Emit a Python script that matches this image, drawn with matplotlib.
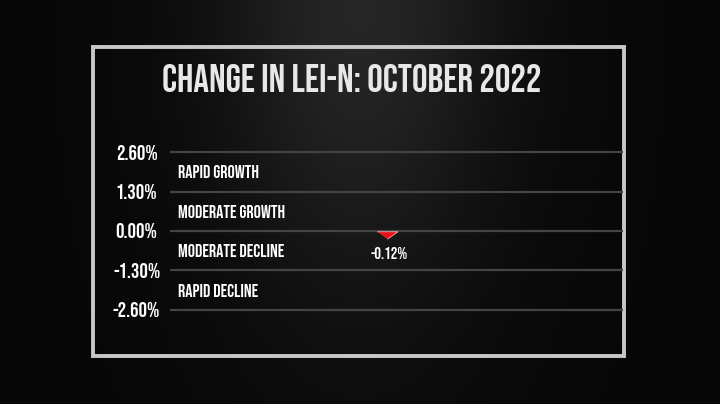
import numpy as np
import matplotlib.pyplot as plt
from matplotlib.patches import Rectangle

plt.rcParams['font.family'] = ['Bebas Neue', 'Fjalla One', 'Oswald', 'Antonio', 'Roboto Condensed',
                               'Barlow Condensed', 'Sofia Sans Extra Condensed', 'DejaVu Sans']

title = "CHANGE IN LEI-N: OCTOBER 2022"
tick_vals = [2.6, 1.3, 0.0, -1.3, -2.6]
tick_labels = ["2.60%", "1.30%", "0.00%", "-1.30%", "-2.60%"]
zone_names = ["RAPID GROWTH", "MODERATE GROWTH", "MODERATE DECLINE", "RAPID DECLINE"]
lei_change = -0.12
lei_label = "-0.12%"

fig = plt.figure(figsize=(7.2, 4.04), dpi=100)
fig.patch.set_facecolor('#080808')

# spotlight background
bg = fig.add_axes([0, 0, 1, 1], zorder=0)
xx, yy = np.meshgrid(np.linspace(0, 1, 360), np.linspace(0, 1, 202))
glow = np.exp(-((xx - 0.5) / 0.2) ** 2) * np.exp(-(yy / 0.75) ** 2)
shade = 0.03 + 0.12 * glow
bg.imshow(np.dstack([shade] * 3), extent=[0, 1, 1, 0], aspect='auto', interpolation='bilinear')
bg.set_xlim(0, 1)
bg.set_ylim(1, 0)
bg.axis('off')
bg.add_patch(Rectangle((93 / 720, 47 / 404), 531 / 720, 309 / 404, fill=False,
                       edgecolor='#c8c8c8', lw=2.8, zorder=3))

ax = fig.add_axes([170 / 720, 1 - 328.2 / 404, 453 / 720, 194.4 / 404], zorder=2)
ax.patch.set_alpha(0)
ax.set_xlim(0, 1)
ax.set_ylim(-3.2, 3.2)
for s in ax.spines.values():
    s.set_visible(False)
ax.set_xticks([])
ax.set_yticks(tick_vals)
ax.set_yticklabels(tick_labels)
ax.tick_params(axis='y', length=0, pad=24, labelsize=15, labelcolor='white')
for lab in ax.get_yticklabels():
    lab.set_horizontalalignment('center')
ax.grid(axis='y', color='#444444', lw=1.6)

mids = [(tick_vals[i] + tick_vals[i + 1]) / 2 for i in range(len(zone_names))]
for name, y in zip(zone_names, mids):
    ax.text(0.018, y, name, color='white', fontsize=13, fontweight='bold', va='center', ha='left')

tri = [(-1.4, 0.5), (1.4, 0.5), (0, -0.5)]
ax.plot([0.479], [lei_change], marker=tri, markersize=15, color='#e3121c',
        markeredgecolor='#f4c8c8', markeredgewidth=0.5, zorder=5)
ax.annotate(lei_label, (0.479, lei_change), xytext=(1.5, -13), textcoords='offset points',
            ha='center', va='center', color='white', fontsize=12)

fig.text(352 / 720, 1 - 78 / 404, title, ha='center', va='center', color='#e8e8e8',
         fontsize=28, fontweight='bold')

fig.savefig('out.png', dpi=100, facecolor=fig.get_facecolor())
